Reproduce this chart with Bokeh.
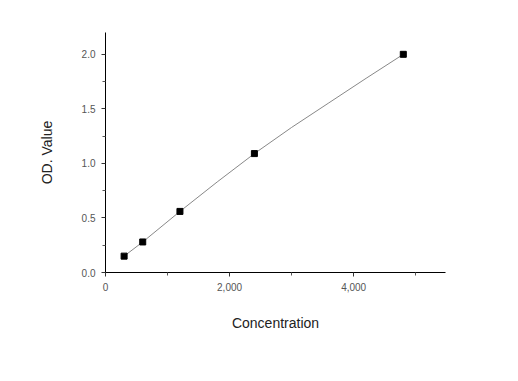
from bokeh.plotting import figure
from bokeh.models import Range1d, FixedTicker, NumeralTickFormatter
from bokeh.embed import file_html
from bokeh.resources import INLINE

conc = [300, 600, 1200, 2400, 4800]
od = [0.15, 0.28, 0.56, 1.09, 2.0]
# fitted curve
fit_x = [300, 600, 1200, 1800, 2400, 3000, 3600, 4200, 4800]
fit_y = [0.15, 0.28, 0.56, 0.83, 1.09, 1.33, 1.555, 1.78, 2.0]
x_ticks = [0, 2000, 4000]
x_minor = [1000, 3000, 5000]
y_ticks = [0.0, 0.5, 1.0, 1.5, 2.0]
y_minor = [0.25, 0.75, 1.25, 1.75]

p = figure(width=500, height=360, output_backend="svg", toolbar_location=None,
           x_range=Range1d(0, 5480), y_range=Range1d(0, 2.2),
           min_border_left=105, min_border_top=32, min_border_right=55, min_border_bottom=88)
p.outline_line_color = None
p.xgrid.visible = False
p.ygrid.visible = False

p.line(fit_x, fit_y, line_color="#888888", line_width=1)
p.scatter(conc, od, marker="square", size=6, fill_color="black", line_color="black")

for ax in (p.xaxis[0], p.yaxis[0]):
    ax.axis_line_color = "black"
    ax.major_tick_line_color = "#333333"
    ax.minor_tick_line_color = "#555555"
    ax.major_tick_out = 4
    ax.major_tick_in = 0
    ax.minor_tick_out = 3
    ax.minor_tick_in = 0
    ax.major_label_text_font = "Liberation Sans"
    ax.major_label_text_font_size = "10px"
    ax.major_label_text_color = "#555555"
    ax.axis_label_text_font = "Liberation Sans"
    ax.axis_label_text_font_size = "14px"
    ax.axis_label_text_font_style = "normal"
    ax.axis_label_text_color = "#222222"

p.xaxis.ticker = FixedTicker(ticks=x_ticks, minor_ticks=x_minor)
p.yaxis.ticker = FixedTicker(ticks=y_ticks, minor_ticks=y_minor)
p.xaxis.formatter = NumeralTickFormatter(format="0,0")
p.yaxis.formatter = NumeralTickFormatter(format="0.0")
p.xaxis.axis_label = "Concentration"
p.yaxis.axis_label = "OD. Value"
p.xaxis.axis_label_standoff = 21
p.yaxis.axis_label_standoff = 24
p.xaxis.major_label_standoff = 6
p.yaxis.major_label_standoff = 6

open("out.html", "w").write(file_html(p, INLINE))
